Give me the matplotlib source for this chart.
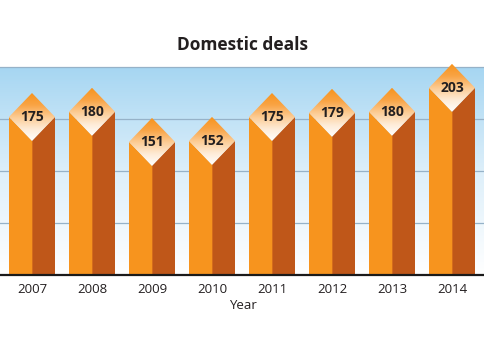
import matplotlib.pyplot as plt
import numpy as np
from matplotlib.colors import LinearSegmentedColormap
from matplotlib.patches import Polygon

years = ["2007", "2008", "2009", "2010", "2011", "2012", "2013", "2014"]
deals = [175, 180, 151, 152, 175, 179, 180, 203]
grid_values = [50, 100, 150, 200]

FRONT = "#F7941E"
SIDE = "#BF5719"
TEXT = "#231F20"

plt.rcParams["font.family"] = ["Open Sans", "DejaVu Sans"]

fig = plt.figure(figsize=(4.85, 3.5), dpi=100)
# y=0 at 275 px from top, 1.04 px per unit
ymax = 215
ax_h = ymax * 1.04 / 350
ax = fig.add_axes([0, 75 / 350, 1, ax_h])
x0 = -32 / 60
ax.set_xlim(x0, x0 + 485 / 60)
ax.set_ylim(0, ymax)

# background gradient up to the top grid line
bg = LinearSegmentedColormap.from_list("bg", ["#FFFFFF", "#DDEFFA", "#A6D6F2"])
grad = np.linspace(0, 1, 256).reshape(-1, 1)
ax.imshow(grad, cmap=bg, origin="lower", aspect="auto",
          extent=[x0, x0 + 485 / 60, 0, grid_values[-1]], zorder=0)

for g in grid_values:
    ax.axhline(g, color="#96B2C8", lw=0.9, zorder=1)

top_cmap = LinearSegmentedColormap.from_list(
    "top", ["#FFFFFF", "#FEEBD6", "#FCCB93", "#F9A445", "#F7941E"])

w = 23 / 60
d = 23
for i, v in enumerate(deals):
    front = Polygon([(i - w, 0), (i - w, v - d), (i, v - 2 * d), (i, 0)],
                    closed=True, facecolor=FRONT, edgecolor="none", zorder=3)
    side = Polygon([(i, 0), (i, v - 2 * d), (i + w, v - d), (i + w, 0)],
                   closed=True, facecolor=SIDE, edgecolor="none", zorder=3)
    ax.add_patch(front)
    ax.add_patch(side)
    ax.plot([i, i], [0, v - 2 * d], color="#D9711C", lw=0.6, zorder=4)
    top = Polygon([(i - w, v - d), (i, v), (i + w, v - d), (i, v - 2 * d)],
                  closed=True, facecolor="none", edgecolor="none", zorder=4)
    ax.add_patch(top)
    im = ax.imshow(grad, cmap=top_cmap, origin="lower", aspect="auto",
                   extent=[i - w, i + w, v - 2 * d, v], zorder=4)
    im.set_clip_path(top)
    ax.text(i, v - d, str(v), ha="center", va="center", fontsize=10,
            fontweight="bold", color=TEXT, zorder=5)

ax.set_xticks(range(len(years)))
ax.set_xticklabels(years, fontsize=9.5, color=TEXT)
ax.tick_params(axis="x", length=0, pad=6)
ax.set_yticks([])
for s in ["top", "left", "right"]:
    ax.spines[s].set_visible(False)
ax.spines["bottom"].set_color("#1A1A1A")
ax.spines["bottom"].set_linewidth(1.6)
ax.spines["bottom"].set_zorder(6)
ax.set_xlabel("Year", fontsize=9.5, color=TEXT, labelpad=2)

fig.text(0.5, 1 - 45 / 350, "Domestic deals", ha="center", va="center",
         fontsize=12.5, fontweight="bold", color=TEXT)

fig.savefig("out.png", dpi=100)
